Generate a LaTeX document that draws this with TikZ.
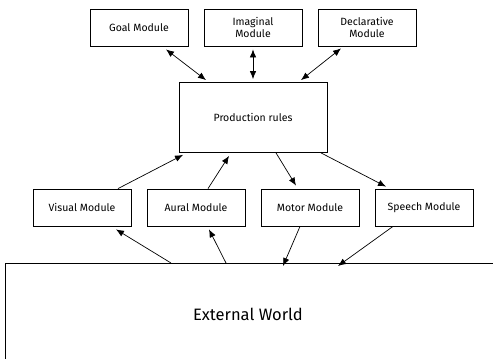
\documentclass[tikz,border=0pt]{standalone}
\usepackage{fontspec}
\setmainfont{Fira Sans}
\usetikzlibrary{arrows.meta}
\begin{document}
\begin{tikzpicture}[x=1pt,y=-1pt,
  module/.style={draw, line width=0.8pt, minimum width=98pt, minimum height=37pt,
    inner sep=0pt, align=center, font=\fontsize{10.5}{11.5}\selectfont},
  link/.style={line width=0.7pt, -{Latex[length=8pt,width=6.5pt]}},
  duplex/.style={line width=0.7pt, {Latex[length=8pt,width=6.5pt]}-{Latex[length=8pt,width=6.5pt]}}]
  \useasboundingbox (0,0) rectangle (493,359);
  \clip (0,0) rectangle (493,359);

  % top row of modules
  \node[module] (goal) at (139,27.5) {Goal Module};
  \node[module] (imag) at (253,27.5) {Imaginal\\Module};
  \node[module] (decl) at (367,27.5) {Declarative\\Module};

  % central production system
  \node[module, minimum width=148pt, minimum height=70pt] (prod) at (253,117.5) {Production rules};

  % perceptual and motor modules
  \node[module] (vis) at (82,207.5) {Visual Module};
  \node[module] (aur) at (196,207.5) {Aural Module};
  \node[module] (mot) at (310,207.5) {Motor Module};
  \node[module] (spe) at (424,207.5) {Speech Module};

  % environment
  \node[draw, line width=0.8pt, anchor=north west, minimum width=560pt, minimum height=160pt] (world) at (5,263) {};
  \node[font=\fontsize{16.5}{18}\selectfont] (worldtext) at (248,314) {External World};

  % buffers to production rules
  \draw[duplex] ([xshift=27pt,yshift=-3pt]goal.south) -- ([xshift=-47pt,yshift=2pt]prod.north);
  \draw[duplex] ([yshift=-3pt]imag.south) -- ([yshift=3pt]prod.north);
  \draw[duplex] ([xshift=-26pt,yshift=-2pt]decl.south) -- ([xshift=48pt,yshift=2pt]prod.north);

  % perception upwards
  \draw[link] ([xshift=36pt]vis.north) -- ([xshift=-70pt,yshift=-2pt]prod.south);
  \draw[link] ([xshift=12pt]aur.north) -- ([xshift=-24pt,yshift=-3pt]prod.south);
  % action downwards
  \draw[link] ([xshift=23pt]prod.south) -- ([xshift=-14pt,yshift=3pt]mot.north);
  \draw[link] ([xshift=68pt]prod.south) -- ([xshift=-38pt,yshift=2pt]spe.north);

  % world to perception, action to world
  \draw[link] ([xshift=166pt]world.north west) -- ([xshift=34pt,yshift=-3pt]vis.south);
  \draw[link] ([xshift=221pt]world.north west) -- ([xshift=13pt,yshift=-3pt]aur.south);
  \draw[link] ([xshift=-10pt]mot.south) -- ([xshift=278pt,yshift=-3pt]world.north west);
  \draw[link] ([xshift=-31pt]spe.south) -- ([xshift=333pt,yshift=-3pt]world.north west);
\end{tikzpicture}
\end{document}
